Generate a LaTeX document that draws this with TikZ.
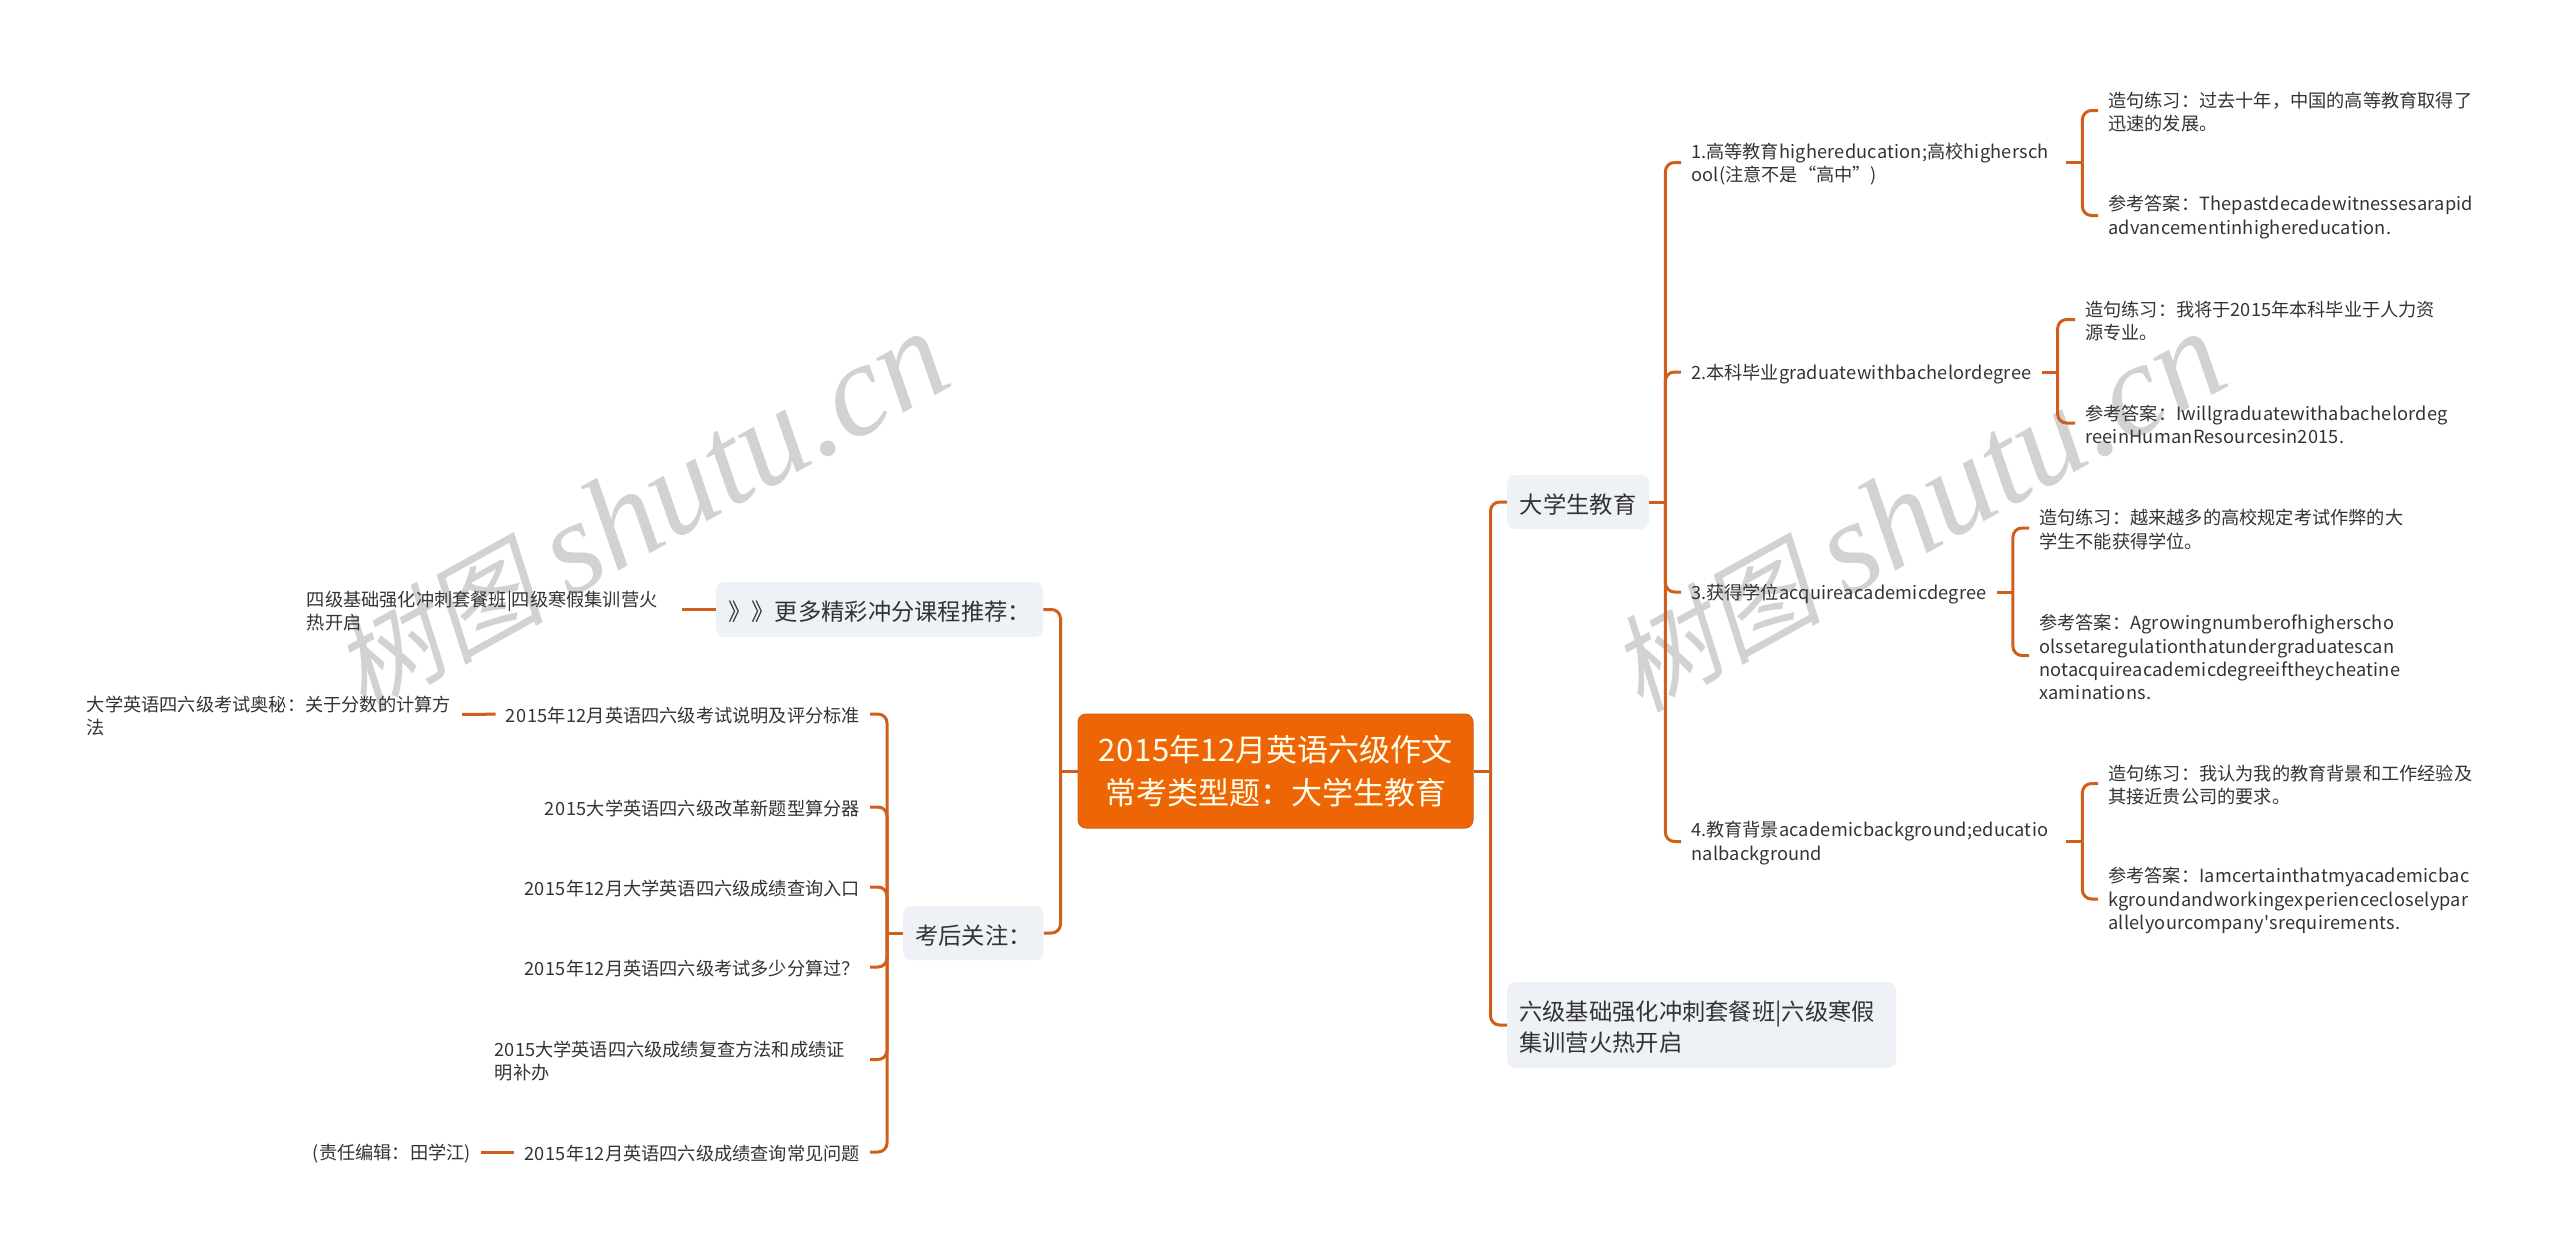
\documentclass[tikz,border=0pt]{standalone}
\usepackage{fontspec}
\setmainfont{Noto Sans CJK SC}
\newfontfamily\markcjk[FakeSlant=0.2]{Noto Sans CJK SC}
\newfontfamily\marklat{Liberation Serif}
\newfontfamily\latfont[LetterSpace=1.2]{Noto Sans CJK SC}
\newfontfamily\digfont[LetterSpace=3]{Noto Sans CJK SC}
\newcommand\lat[1]{{\latfont #1}}
\newcommand\dig[1]{{\digfont #1}}
\newcommand\lowtext{\rule{0pt}{1.03em}}
\usepackage{xcolor}
\usetikzlibrary{calc}
\definecolor{wirecol}{HTML}{CF5F1B}
\definecolor{rootcol}{HTML}{EE6505}
\definecolor{boxcol}{HTML}{EEF1F5}
\definecolor{inkcol}{HTML}{333333}
\definecolor{markcol}{HTML}{D2D2D2}
\tikzset{
  wire/.style={draw=wirecol,line width=3pt,rounded corners=9pt},
  leaf/.style={inner xsep=10pt,inner ysep=0pt,text=inkcol,font=\fontsize{18.2}{23.4}\selectfont,
    execute at begin node=\lowtext},
  wrapped/.style={leaf,align=left,text width=365pt},
  topic/.style={fill=boxcol,rounded corners=8pt,inner xsep=12pt,inner ysep=0pt,text=inkcol,
    font=\fontsize{23.3}{31}\selectfont,execute at begin node=\lowtext},
  rootbox/.style={fill=rootcol,draw=wirecol,line width=1pt,rounded corners=8pt,text=white!92!yellow,
    align=center,minimum width=395pt,minimum height=114pt,font=\fontsize{31}{43.5}\selectfont},
  stamp/.style={text=markcol,rotate=29,inner sep=0pt,font=\fontsize{132}{132}\selectfont}
}
\begin{document}
\begin{tikzpicture}[x=1pt,y=-1pt]
\useasboundingbox (0,0) rectangle (2560,1251);
\foreach \m/\x in {ml/640,mr/1917}{%
\node[stamp] (\m) at (\x,512) {{\markcjk\fontsize{106}{106}\selectfont 树图}\hspace{0.18em}{\marklat\itshape shutu.cn}};
}
\node[rootbox] (root) at (1275.5,771) {\dig{2015}年\dig{12}月英语六级作文\\常考类型题：大学生教育};

\node[topic,anchor=west,minimum width=327pt,minimum height=55pt] (more) at (716,609.5) {》》更多精彩冲分课程推荐：};
\node[topic,anchor=west,minimum width=140pt,minimum height=54pt] (after) at (903,933) {考后关注：};
\node[topic,anchor=west,minimum width=142pt,minimum height=54pt] (edu) at (1507,502) {大学生教育};
\node[topic,anchor=west,minimum width=389pt,minimum height=86pt,align=left,text width=365pt] (six) at (1507,1025) {六级基础强化冲刺套餐班|六级寒假\\集训营火热开启};

\node[wrapped,anchor=east] (four) at (682,609.5) {四级基础强化冲刺套餐班|四级寒假集训营火\\热开启};
\node[leaf,anchor=east] (s1) at (870,714) {\dig{2015}年\dig{12}月英语四六级考试说明及评分标准};
\node[leaf,anchor=east] (s2) at (870,807) {\dig{2015}大学英语四六级改革新题型算分器};
\node[leaf,anchor=east] (s3) at (870,887) {\dig{2015}年\dig{12}月大学英语四六级成绩查询入口};
\node[leaf,anchor=east] (s4) at (870,967) {\dig{2015}年\dig{12}月英语四六级考试多少分算过？};
\node[wrapped,anchor=east] (s5) at (870,1059.5) {2015大学英语四六级成绩复查方法和成绩证\\明补办};
\node[leaf,anchor=east] (s6) at (870,1152) {\dig{2015}年\dig{12}月英语四六级成绩查询常见问题};
\node[wrapped,anchor=east] (sec) at (462,714.5) {大学英语四六级考试奥秘：关于分数的计算方\\法};
\node[leaf,anchor=east] (ed) at (481,1152) {(责任编辑：田学江)};

\node[wrapped,anchor=west] (q1) at (1681,162.5) {1.高等教育\lat{highereducation;}高校\lat{highersch}\\\lat{ool(}注意不是“高中”)};
\node[leaf,anchor=west] (q2) at (1681,372) {2.本科毕业\lat{graduatewithbachelordegree}};
\node[leaf,anchor=west] (q3) at (1681,592) {3.获得学位\lat{acquireacademicdegree}};
\node[wrapped,anchor=west] (q4) at (1681,841.5) {4.教育背景\lat{academicbackground;educatio}\\\lat{nalbackground}};

\node[wrapped,anchor=west] (a1) at (2098,110.5) {造句练习：过去十年，中国的高等教育取得了\\迅速的发展。};
\node[wrapped,anchor=west] (b1) at (2098,215.5) {参考答案：\lat{Thepastdecadewitnessesarapid}\\\lat{advancementinhighereducation.}};
\node[wrapped,anchor=west] (a2) at (2075,319.5) {造句练习：我将于2015年本科毕业于人力资\\源专业。};
\node[wrapped,anchor=west] (b2) at (2075,423) {参考答案：\lat{Iwillgraduatewithabachelordeg}\\\lat{reeinHumanResourcesin2015.}};
\node[wrapped,anchor=west] (a3) at (2029,528) {造句练习：越来越多的高校规定考试作弊的大\\学生不能获得学位。};
\node[wrapped,anchor=west] (b3) at (2029,655.5) {参考答案：\lat{Agrowingnumberofhigherscho}\\\lat{olssetaregulationthatundergraduatescan}\\\lat{notacquireacademicdegreeiftheycheatine}\\\lat{xaminations.}};
\node[wrapped,anchor=west] (a4) at (2098,783.5) {造句练习：我认为我的教育背景和工作经验及\\其接近贵公司的要求。};
\node[wrapped,anchor=west] (b4) at (2098,899) {参考答案：\lat{Iamcertainthatmyacademicbac}\\\lat{kgroundandworkingexperiencecloselypar}\\\lat{allelyourcompany'srequirements.}};

\draw[wire] (root.west) -- ++(-17,0) coordinate (jl);
\draw[wire] (root.east) -- ++(17,0) coordinate (jr);
\foreach \n in {more,after} \draw[wire] (jl) |- (\n.east);
\foreach \n in {edu,six} \draw[wire] (jr) |- (\n.west);

\draw[wire] (after.west) -- ++(-16,0) coordinate (js);
\foreach \n in {s1,s2,s3,s4,s5,s6} \draw[wire] (js) |- (\n.east);
\draw[wire] (four) -- (more);
\draw[wire] (sec) -- (s1);
\draw[wire] (ed) -- (s6);

\draw[wire] (edu.east) -- ++(16,0) coordinate (je);
\foreach \n in {q1,q2,q3,q4} \draw[wire] (je) |- (\n.west);
\foreach \i in {1,...,4}{%
\draw[wire] (q\i.east) -- ++(16,0) coordinate (j\i);
\draw[wire] (j\i) |- (a\i.west);
\draw[wire] (j\i) |- (b\i.west);
}
\end{tikzpicture}
\end{document}
